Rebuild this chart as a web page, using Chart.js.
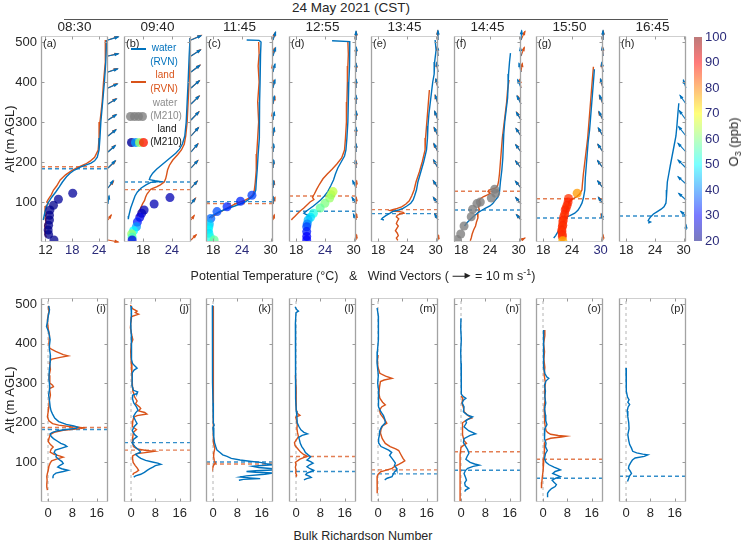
<!DOCTYPE html>
<html><head><meta charset="utf-8">
<script src="https://cdn.jsdelivr.net/npm/chart.js@4.4.1/dist/chart.umd.min.js"></script>
<style>
body{margin:0;background:#fff;}
#root{position:relative;width:744px;height:543px;overflow:hidden;font-family:"Liberation Sans",Arial,Helvetica,sans-serif;color:#262626;background:#fff;}
#root canvas{position:absolute;}
.t{position:absolute;white-space:nowrap;line-height:1;z-index:5;}
.c{transform:translate(-50%,-50%);}
.rot{transform:translate(-50%,-50%) rotate(-90deg);}
.dot{position:absolute;width:9px;height:9px;border-radius:50%;z-index:5;}
.arr{display:inline-block;position:relative;width:13px;height:1.4px;background:#222;vertical-align:middle;margin:0 9px 0 4px;}
.arr:after{content:"";position:absolute;right:-5px;top:-3px;border-left:6px solid #222;border-top:3.7px solid transparent;border-bottom:3.7px solid transparent;}
</style></head><body><div id="root"></div>
<script>
// ---------------- DATA ----------------
const times = ["08:30","09:40","11:45","12:55","13:45","14:45","15:50","16:45"];
const topLabels = ["(a)","(b)","(c)","(d)","(e)","(f)","(g)","(h)"];
const botLabels = ["(i)","(j)","(k)","(l)","(m)","(n)","(o)","(p)"];
const tMin = [11,14,16.5,16.5,16.5,16.5,16.5,16.5];
const tMax = [26,28,30.5,30.5,30.5,30.5,30.5,30.5];
const tTicks = [[12,18,24],[18,24],[18,24,30],[18,24,30],[18,24,30],[18,24,30],[18,24,30],[18,24,30]];
const tTicksNavy = [[18,24],[24],[24],[24],[],[],[30],[]];
const altTicks = [100,200,300,400,500];
const brnTicks = [0,8,16];
const brnMin = -2.3, brnMax = 19.7;
const o3Ticks = [20,30,40,50,60,70,80,90,100];
// boundary-layer heights (m), water and land
const pblWater = [183,150,101,77,71,80,60,65];
const pblLand  = [188,131,96,115,81,127,108,null];

// potential temperature profiles [alt, theta]
const thWater_a = [[505,25.7],[450,25.5],[400,25.2],[350,24.8],[300,24.4],[260,24.2],[230,24.0],[212,23.6],[203,23.0],[197,22.2],[192,21.0],[187,19.8],[180,18.5],[172,17.5],[163,16.7],[150,15.8],[138,15.1],[125,14.3],[112,13.4],[100,12.7],[88,12.2],[76,11.9],[65,11.7],[55,11.5]];
const thLand_a = [[505,25.5],[450,25.4],[400,25.0],[350,24.7],[300,24.2],[260,24.0],[230,23.8],[212,23.0],[202,22.0],[195,21.0],[190,20.0],[185,19.0],[178,17.8],[168,16.5],[155,15.3],[140,14.5],[130,13.8],[118,13.3],[108,12.7],[100,12.3],[95,12.6],[90,12.1],[80,11.9],[70,12.2],[60,11.9],[50,12.1],[40,11.8],[30,12.0],[20,11.9],[12,12.2]];
const thWater_b = [[510,27.8],[460,27.6],[400,27.4],[350,27.2],[300,27.0],[265,26.7],[245,26.2],[232,25.6],[222,24.8],[212,23.8],[202,22.8],[192,21.8],[182,20.8],[172,20.0],[163,19.5],[156,19.3],[153,20.5],[151,21.5],[149,19.6],[143,18.6],[135,17.6],[125,16.8],[115,16.3],[105,16.0],[95,15.7],[85,15.4],[75,15.2],[65,15.0],[57,14.9]];
const thLand_b = [[510,27.9],[460,27.8],[400,27.6],[350,27.4],[300,27.2],[265,26.9],[245,26.6],[230,26.0],[218,25.2],[205,24.2],[192,23.5],[180,23.1],[168,22.9],[158,22.7],[150,22.4],[143,21.6],[138,20.8],[134,20.0],[131,19.5],[126,19.2],[120,18.8],[112,18.5],[104,18.3],[96,17.9],[88,17.6],[80,17.3],[72,17.0],[64,16.7]];
const thWater_c = [[505,25.0],[504,27.6],[500,28.0],[470,27.9],[440,27.8],[400,27.8],[350,27.7],[300,27.7],[260,27.6],[220,27.4],[180,27.2],[150,27.0],[130,26.9],[120,26.6],[113,26.2],[107,25.5],[101,24.8],[95,23.6],[90,22.5],[85,21.3],[80,20.2],[75,19.2],[70,18.4],[65,17.6],[60,17.2]];
const thLand_c = [[500,27.5],[470,27.6],[440,27.4],[400,27.6],[350,27.3],[300,27.5],[260,27.3],[220,27.1],[180,27.0],[150,26.8],[130,26.6],[118,26.3],[110,25.6],[104,24.6],[99,23.4],[94,22.4],[89,21.6],[84,20.8],[78,19.9],[72,19.0],[66,18.2],[60,17.6]];
const thWater_d = [[503,25.5],[501,29.2],[480,29.2],[440,29.1],[400,29.0],[350,28.9],[300,28.8],[260,28.6],[230,28.4],[215,28.1],[200,27.4],[185,26.7],[170,26.2],[155,25.8],[140,25.2],[126,24.6],[115,23.9],[105,23.1],[97,22.3],[90,21.6],[83,20.8],[77,20.1],[72,19.6],[68,20.2],[66,21.0],[64,20.3]];
const thLand_d = [[500,28.8],[470,28.9],[440,28.8],[400,28.7],[350,28.6],[300,28.5],[260,28.3],[230,28.1],[210,27.5],[195,26.5],[182,25.5],[170,24.5],[158,23.6],[145,22.9],[132,22.3],[120,21.8],[112,21.4],[106,21.7],[100,20.9],[92,20.2],[85,19.6],[78,18.9],[71,18.3],[64,17.7],[58,17.2],[55,17.0]];
const thWater_e = [[505,29.9],[480,30.1],[450,29.8],[420,29.7],[400,29.4],[380,29.2],[350,28.9],[320,28.6],[290,28.4],[260,28.3],[230,28.1],[200,27.5],[175,26.9],[150,26.3],[130,26.0],[115,25.6],[105,25.3],[97,24.8],[90,24.0],[84,23.2],[80,22.3],[77,21.2],[72,20.5],[66,19.6],[60,18.9],[57,18.7],[55,19.2]];
const thLand_e = [[380,28.7],[350,28.5],[320,28.3],[290,28.1],[260,27.9],[230,27.8],[200,27.2],[175,26.6],[150,25.9],[130,25.5],[115,25.0],[103,24.5],[95,23.8],[88,22.9],[84,22.0],[81,21.0],[79,20.5],[77,21.5],[76,22.5],[74,23.2],[72,23.4],[70,22.6],[67,22.0],[63,21.8],[58,22.3],[52,22.0],[46,21.8],[40,22.2],[34,21.9],[28,21.6],[22,22.0],[16,22.2],[10,21.8],[4,22.1]];
const thWater_f = [[472,28.3],[450,28.1],[420,27.9],[390,27.8],[360,27.7],[330,27.4],[300,27.1],[270,26.9],[240,26.8],[210,26.7],[180,26.5],[150,26.2],[125,26.0],[113,25.7],[104,25.1],[96,24.6],[90,24.0],[84,23.0],[80,22.4],[74,21.6],[68,21.0],[62,20.4],[55,19.8],[48,19.2],[40,18.7]];
const thLand_f = [[405,28.0],[380,27.7],[350,27.5],[320,27.2],[290,26.9],[260,26.6],[230,26.4],[200,26.2],[170,26.0],[150,25.8],[140,25.6],[135,25.2],[132,24.4],[130,23.8],[126,23.6],[122,24.1],[118,23.5],[113,22.6],[108,22.0],[103,21.7],[96,21.9],[88,21.6],[80,21.8],[70,21.4],[60,21.5],[50,21.2],[40,21.0],[30,20.6],[20,20.3],[10,20.1],[3,19.9]];
const thWater_g = [[432,28.7],[400,28.5],[370,28.3],[340,28.1],[310,27.9],[280,27.7],[250,27.4],[220,27.2],[190,27.0],[160,26.8],[130,26.7],[110,26.4],[97,26.1],[88,25.7],[80,25.3],[72,24.6],[66,23.6],[62,22.8],[56,22.5],[48,22.2],[40,21.9],[32,21.5],[24,21.0],[16,20.6],[10,20.2]];
const thLand_g = [[438,28.5],[410,28.3],[380,28.1],[350,27.9],[320,27.7],[290,27.5],[260,27.3],[230,27.0],[200,26.7],[170,26.4],[145,26.2],[130,26.1],[120,25.6],[113,25.0],[108,24.2],[104,23.6],[98,23.4],[90,23.2],[80,22.9],[70,22.6],[60,22.4],[50,22.2],[40,22.2],[30,22.0],[20,22.1],[10,22.0]];
const thWater_h = [[347,29.0],[320,28.8],[290,28.6],[265,28.4],[240,28.0],[215,27.6],[190,27.2],[170,26.9],[150,26.6],[130,26.5],[110,26.4],[97,26.3],[88,25.9],[82,25.3],[76,24.5],[70,23.7],[64,23.2],[58,22.8],[53,22.6],[50,23.1],[47,22.6]];

// M210 drone points: land [alt, theta, O3], water [alt, theta]
const m210Land_a = [[122,18.1,22],[107,14.9,22],[92,13.8,21],[80,13.0,21],[67,12.9,21],[55,12.9,21],[42,12.7,21],[30,12.6,21],[19,12.7,21],[5,13.9,21]];
const m210Land_b = [[111,23.6,24],[95,20.3,24],[80,18.2,24],[72,17.7,25],[62,17.3,28],[50,16.8,32],[38,16.6,42],[28,16.0,50],[20,15.6,62],[12,15.7,55],[5,15.7,28]];
const m210Land_c = [[117,26.1,35],[102,23.7,33],[88,20.9,33],[76,18.8,36],[59,17.5,38],[45,17.2,45],[38,17.1,48],[30,17.0,50],[22,17.1,48],[12,17.4,52],[5,18.2,58]];
const m210Land_d = [[126,25.7,65],[118,25.3,64],[110,25.0,62],[97,24.0,60],[85,23.0,58],[72,21.6,52],[62,21.0,48],[55,20.5,45],[45,20.3,40],[38,20.2,35],[26,20.2,32],[14,20.2,30],[5,20.2,30]];
const m210Land_g = [[122,25.1,78],[109,23.3,86],[100,23.2,87],[92,23.0,87],[85,22.8,86],[80,22.6,87],[70,22.5,87],[63,22.3,86],[55,22.2,87],[50,22.1,86],[42,22.1,87],[38,22.0,86],[30,21.9,87],[26,21.9,86],[18,22.0,87],[13,22.0,86],[3,22.1,76]];
const m210Water_f = [[132,25.0],[122,25.2],[110,24.3],[100,22.0],[96,21.3],[82,20.4],[63,20.1],[40,18.6],[20,17.9],[6,17.2]];

// wind vectors [u, v] in m/s at levels (m)
const windLevels = [505,465,425,385,345,305,265,225,185,135,95,55,5];
const windLevels_h = [385,345,305,265,225,185,145,105,65,30];
const windW_a = [[7.7,2.3],[7.7,1.6],[7.2,2.3],[7.0,3.0],[6.3,3.8],[6.2,3.9],[6.0,4.6],[5.5,4.8],[5.4,5.4],[3.8,5.5],[0.8,6.2],null,null];
const windL_a = [[7.5,2.6],[7.6,1.9],[7.0,2.6],[6.8,3.3],[6.1,4.0],[6.0,4.1],[5.8,4.8],[5.3,5.0],[5.6,5.2],[4.2,5.0],null,[2.5,3.8],[7.7,-1.5]];
const windW_b = [[7.5,3.2],[7.0,4.5],[6.6,5.0],[6.2,5.4],[6.0,5.8],[5.8,6.0],[5.5,6.2],[5.0,6.0],[5.0,5.5],[4.6,5.0],[3.0,4.0],null,null];
const windL_b = [[7.7,3.5],[7.2,4.7],[6.8,5.2],[6.4,5.6],[6.2,6.0],[6.0,6.2],[5.7,6.4],[5.3,6.2],[5.2,5.7],[4.8,5.2],[3.5,4.5],[2.5,3.5],[4.0,4.0]];
const windW_c = [[2.0,6.0],[2.0,6.2],[1.5,6.0],[1.5,6.2],[1.0,6.0],[1.0,6.0],[1.0,6.2],[0.5,6.0],[0.5,6.0],[0.5,5.5],[0.3,5.5],null,null];
const windL_c = [[1.5,5.5],[1.0,5.8],[-0.5,5.5],[0.5,5.6],[1.5,5.5],[-0.5,5.6],[0.5,5.5],[0.0,5.6],[0.5,5.5],[1.0,5.0],[1.5,5.0],[1.0,4.0],null];
const windW_d = [[0.0,6.5],[0.3,6.6],[0.0,6.5],[0.0,6.6],[0.0,6.5],[0.2,6.5],[0.0,6.5],[0.0,6.2],[-0.5,6.0],[-2.5,5.5],[-3.0,5.0],[-2.0,4.5],null];
const windL_d = [[0.2,6.2],[0.0,6.2],[0.2,6.1],[0.0,6.2],[0.0,6.0],[0.3,6.0],[0.0,6.0],[0.0,6.0],[0.0,5.6],[0.5,5.5],[0.3,5.0],[0.5,4.5],[0.5,4.0]];
const windW_e = [[0.0,7.0],[-0.5,7.0],[-1.0,7.0],[-1.5,6.8],[-2.0,6.6],[-2.5,6.5],[-2.8,6.3],[-3.0,6.2],[-3.2,6.0],[-3.5,5.5],[-3.5,5.0],[-2.5,4.5],null];
const windL_e = [[-0.3,6.8],[-0.6,6.8],[-1.2,6.8],[-1.8,6.6],[-2.2,6.5],[-2.6,6.4],[-3.0,6.2],[-3.2,6.0],[-3.4,5.8],[-3.6,5.4],[-3.4,5.0],[-2.0,4.5],[0.5,3.5]];
const windW_f = [[0.5,7.0],[-0.5,6.5],[-1.5,6.5],[-2.5,6.3],[-3.0,6.0],[-3.5,5.8],[-3.8,5.6],[-4.0,5.4],[-4.0,5.2],[-4.2,5.0],[-4.0,4.8],[-3.5,4.0],null];
const windL_f = [[3.0,6.5],[2.5,6.5],[1.0,6.5],[-1.0,6.3],[-2.5,6.0],[-3.2,5.8],[-3.6,5.6],[-3.8,5.4],[-4.0,5.2],[-4.0,5.0],[-3.8,4.8],[-3.0,4.0],[3.0,1.5]];
const windW_g = [[0.0,7.0],[-0.5,7.0],[-1.0,7.0],[-1.8,6.8],[-2.5,6.5],[-3.0,6.3],[-3.5,6.0],[-3.8,5.8],[-4.0,5.5],[-4.0,5.3],[-3.5,5.0],[-1.0,4.5],null];
const windL_g = [[0.2,6.8],[-0.3,6.8],[-1.2,6.6],[-2.0,6.5],[-2.8,6.3],[-3.3,6.0],[-3.6,5.8],[-3.9,5.6],[-4.0,5.4],[-3.8,5.2],[-3.2,5.0],[-1.5,4.5],[0.0,4.0]];
const windW_h = [[-2.0,6.0],[-4.5,6.5],[-5.0,7.0],[-5.5,7.0],[-6.0,6.5],[-6.0,6.0],[-6.0,5.5],[-5.5,5.0],[-4.0,3.5],[0.0,4.0]];

// bulk Richardson number profiles [alt, Ri_b]
const brnWater_i = [[495,0.2],[485,0.5],[470,0.1],[455,-0.2],[443,-0.5],[430,0.2],[410,0.7],[390,0.4],[370,0.8],[350,0.7],[330,0.4],[310,0.3],[290,0.6],[270,0.2],[255,0.5],[241,0.7],[230,1.0],[222,1.5],[212,2.2],[203,3.5],[196,6.0],[192,8.5],[189,9.8],[186,9.2],[183,6.0],[180,3.2],[176,1.5],[172,0.7],[166,1.0],[160,1.8],[154,3.0],[148,4.2],[144,5.5],[140,6.2],[136,4.5],[131,2.4],[125,2.0],[119,2.8],[114,2.6],[108,3.5],[102,4.6],[97,5.0],[92,3.8],[88,3.2],[84,4.5],[80,6.6],[77,5.0],[73,2.6],[68,1.8],[63,1.6],[60,1.7]];
const brnLand_i = [[495,0.1],[480,0.3],[460,-0.2],[440,0.0],[420,0.5],[400,0.3],[388,0.6],[380,2.5],[372,5.0],[369,6.6],[365,4.0],[360,1.0],[350,0.5],[335,0.8],[320,0.4],[300,0.6],[295,1.5],[291,1.8],[286,0.5],[270,0.8],[255,0.4],[240,0.3],[230,0.1],[215,-0.2],[205,0.3],[198,1.5],[194,3.5],[190,7.5],[187,12.3],[184,9.0],[181,5.0],[176,2.0],[170,0.7],[160,0.3],[152,0.1],[145,0.8],[139,1.7],[133,1.0],[126,0.7],[120,2.0],[116,4.0],[113,5.0],[109,3.0],[104,1.2],[98,0.7],[90,0.3],[81,0.1],[72,-0.2],[64,-0.4],[55,-0.3],[45,-0.4],[38,-0.4],[30,-0.2]];
const brnWater_j = [[495,0.0],[480,0.3],[470,0.0],[450,-0.1],[420,0.1],[400,0.0],[380,0.2],[360,0.3],[350,0.5],[343,1.3],[338,2.0],[333,1.0],[326,0.4],[310,0.4],[295,0.3],[282,0.8],[278,2.2],[274,2.0],[270,0.6],[260,0.5],[250,0.9],[240,1.8],[232,2.3],[225,1.5],[216,0.8],[205,1.5],[198,2.0],[190,1.0],[180,0.4],[170,1.2],[165,2.0],[158,0.8],[148,0.5],[138,1.5],[130,2.8],[126,3.1],[120,1.5],[114,2.5],[110,3.2],[105,4.8],[101,7.0],[98,8.8],[95,9.8],[92,8.0],[88,7.2],[84,6.2],[80,5.3],[75,4.4],[70,3.2],[66,1.5],[63,0.9]];
const brnLand_j = [[497,-0.2],[488,0.5],[482,2.0],[478,1.4],[474,2.5],[468,0.2],[455,0.0],[440,-0.2],[420,0.3],[410,0.6],[400,0.1],[380,-0.1],[350,0.1],[320,0.3],[290,0.5],[280,0.6],[274,0.9],[265,1.2],[255,2.0],[248,1.5],[240,2.8],[236,3.2],[230,2.5],[226,4.5],[222,5.2],[218,2.0],[214,0.9],[205,0.6],[198,0.5],[190,0.4],[183,1.8],[176,0.8],[165,0.6],[150,0.5],[140,0.8],[134,2.0],[130,5.0],[128,7.6],[126,6.0],[122,2.0],[117,0.6],[110,0.5],[100,0.7],[92,1.4],[86,2.0],[80,2.5],[76,1.8],[72,0.8],[68,0.6]];
const brnWater_k = [[497,-0.2],[450,-0.2],[400,-0.1],[350,-0.2],[300,-0.1],[250,0.0],[200,0.1],[194,0.4],[188,0.0],[175,0.2],[165,0.3],[150,0.5],[140,0.9],[131,1.3],[125,2.3],[119,3.2],[115,4.6],[110,6.0],[106,8.9],[103,12.0],[100,15.5],[97,17.5],[94,19.9],[92,16.0],[90,13.0],[87,15.0],[84,19.9],[81,19.9],[79,14.0],[77,11.0],[75,14.0],[73,19.9],[70,17.0],[66,11.0],[63,8.9],[61,12.0],[59,15.5],[57,10.0],[55,8.5]];
const brnLand_k = [[495,0.0],[450,0.1],[400,0.1],[390,0.3],[380,0.0],[300,0.1],[250,0.0],[215,0.0],[200,0.2],[175,0.1],[150,0.3],[135,0.6],[125,0.3],[115,0.2],[105,0.4],[98,0.8],[95,0.4],[91,0.1],[88,0.0]];
const brnWater_l = [[493,-0.3],[486,0.2],[482,0.8],[478,0.0],[450,-0.2],[400,-0.1],[350,-0.2],[300,-0.1],[260,-0.1],[230,0.1],[215,0.3],[200,0.4],[190,1.0],[182,1.6],[176,2.6],[172,3.8],[168,2.0],[163,0.9],[155,1.2],[148,1.4],[140,1.9],[132,2.6],[125,3.1],[119,4.0],[114,4.8],[110,4.2],[106,3.6],[102,4.8],[98,5.6],[94,4.5],[89,3.6],[84,4.6],[80,5.8],[77,5.0],[73,3.6],[69,3.2],[65,4.5],[62,5.0],[59,3.5],[56,2.6]];
const brnLand_l = [[320,-0.2],[290,0.0],[260,0.0],[235,0.1],[224,0.4],[219,1.3],[214,-0.1],[205,0.2],[195,0.4],[185,0.3],[175,0.5],[165,0.8],[158,0.2],[150,-0.5],[142,-0.3],[135,0.5],[126,1.5],[120,2.5],[115,3.8],[112,2.5],[108,1.3],[104,0.5],[100,-0.2],[95,0.0],[88,-0.2],[80,0.0],[73,-0.1],[68,0.2],[64,0.1]];
const brnWater_m = [[490,-0.3],[470,0.1],[450,0.2],[434,0.2],[410,0.0],[380,-0.2],[350,-0.3],[320,0.1],[300,-0.1],[280,0.2],[260,0.0],[240,0.3],[230,0.8],[224,1.3],[218,1.8],[210,2.2],[200,2.4],[190,1.2],[180,0.6],[170,0.5],[160,0.2],[149,0.2],[140,1.0],[131,3.5],[125,4.5],[118,3.8],[110,4.6],[104,5.2],[98,5.7],[92,5.4],[86,6.0],[81,6.2],[76,5.4],[70,5.0],[64,4.6],[60,3.0],[56,2.2]];
const brnLand_m = [[371,0.0],[355,-0.2],[340,0.0],[325,0.6],[318,2.5],[312,4.6],[308,2.0],[304,0.8],[290,0.5],[275,0.3],[262,0.6],[252,1.5],[245,2.4],[240,1.2],[232,0.5],[222,0.8],[212,1.8],[204,2.5],[199,2.9],[192,1.5],[184,1.0],[174,0.8],[160,1.4],[148,2.4],[140,4.0],[134,5.8],[130,6.8],[120,7.5],[110,8.2],[104,8.8],[100,8.0],[95,6.8],[90,5.5],[85,4.6],[80,2.5],[76,0.8],[70,0.0],[64,-0.3],[50,-0.3],[35,-0.2],[22,-0.3]];
const brnWater_n = [[464,0.0],[440,-0.1],[410,0.1],[380,-0.1],[350,0.0],[320,0.1],[290,0.0],[272,0.2],[266,0.8],[262,1.6],[257,0.8],[250,0.4],[240,1.0],[228,0.8],[220,2.0],[215,3.8],[210,2.5],[205,1.5],[200,1.8],[190,1.0],[180,2.5],[172,4.8],[168,3.0],[160,1.0],[150,0.8],[140,1.6],[132,2.2],[123,2.6],[115,2.0],[108,1.6],[100,3.0],[96,4.5],[93,6.0],[90,4.0],[85,2.2],[80,1.5],[72,1.0],[62,1.5],[55,1.8],[48,1.2],[41,1.4],[35,2.6],[30,1.5],[26,1.2]];
const brnLand_n = [[268,0.0],[262,0.6],[250,0.3],[238,0.8],[228,1.0],[218,2.4],[212,3.5],[208,2.0],[200,0.5],[190,0.6],[170,0.4],[155,1.0],[148,1.8],[143,0.8],[138,0.0],[120,-0.3],[90,-0.3],[60,-0.3],[30,-0.3],[2,-0.3]];
const brnWater_o = [[434,0.2],[420,0.0],[400,0.3],[380,0.1],[360,0.3],[340,0.2],[325,0.6],[316,1.2],[312,1.9],[306,1.0],[295,0.5],[280,0.8],[265,0.6],[250,0.9],[235,0.5],[220,0.8],[205,0.9],[195,1.3],[185,0.6],[170,0.4],[160,0.6],[148,1.0],[140,0.8],[130,1.4],[122,0.8],[110,0.5],[100,1.0],[94,2.0],[88,3.6],[84,4.8],[81,5.7],[77,4.0],[72,3.2],[68,4.5],[64,5.7],[60,4.2],[55,3.0],[50,3.6],[44,4.4],[39,4.0],[34,2.8],[28,2.0],[22,1.5],[16,1.6],[12,1.4]];
const brnLand_o = [[434,0.4],[420,0.6],[400,0.2],[380,0.5],[360,0.3],[340,0.6],[320,0.4],[300,0.8],[280,0.5],[260,0.7],[240,0.4],[220,0.6],[200,0.5],[188,0.8],[180,1.0],[175,1.6],[171,2.5],[168,5.0],[166,7.6],[164,6.0],[161,2.5],[157,1.0],[150,0.6],[140,0.5],[125,0.4],[110,0.3],[95,0.1],[80,0.0],[65,-0.2],[50,-0.4],[35,-0.5]];
const brnWater_p = [[338,0.0],[320,0.1],[300,0.0],[280,0.2],[265,0.5],[258,1.0],[252,0.6],[246,1.2],[240,0.7],[230,0.4],[215,0.6],[200,0.9],[185,1.0],[170,0.6],[155,0.9],[145,1.2],[136,1.8],[128,2.2],[124,3.5],[121,5.5],[119,7.2],[115,6.0],[111,3.0],[106,2.1],[100,1.6],[92,1.0],[85,0.8],[78,1.4],[72,1.8],[66,1.2],[58,0.8],[52,0.5]];

// ---------------- ASSEMBLY ----------------
const thWater = [thWater_a,thWater_b,thWater_c,thWater_d,thWater_e,thWater_f,thWater_g,thWater_h];
const thLand = [thLand_a,thLand_b,thLand_c,thLand_d,thLand_e,thLand_f,thLand_g,null];
const m210Land = [m210Land_a,m210Land_b,m210Land_c,m210Land_d,null,null,m210Land_g,null];
const m210Water = [null,null,null,null,null,m210Water_f,null,null];
const windW = [windW_a,windW_b,windW_c,windW_d,windW_e,windW_f,windW_g,windW_h];
const windL = [windL_a,windL_b,windL_c,windL_d,windL_e,windL_f,windL_g,null];
const windAlt = [windLevels,windLevels,windLevels,windLevels,windLevels,windLevels,windLevels,windLevels_h];
const brnWater = [brnWater_i,brnWater_j,brnWater_k,brnWater_l,brnWater_m,brnWater_n,brnWater_o,brnWater_p];
const brnLand = [brnLand_i,brnLand_j,brnLand_k,brnLand_l,brnLand_m,brnLand_n,brnLand_o,null];

const BLUE = '#0072BD', ORANGE = '#D95319';
const BLUE_D = 'rgba(0,114,189,0.8)', ORANGE_D = 'rgba(217,83,25,0.75)';
const NAVY = '#2b2b7a', INK = '#262626';
const panelLeft = [41,124,206,289,371,454,536,619];
const PW = 67;
const TOP1 = 36, H1 = 206, TOP2 = 298, H2 = 204;
const padL = 38, padR = 18, padT = 16, padB = 26;
const root = document.getElementById('root');

function jet(v, a) {
  const t = Math.max(0, Math.min(1, (v - 20) / 80));
  const f = x => Math.round(255 * Math.max(0, Math.min(1, 1.5 - Math.abs(x))));
  return `rgba(${f(4*t-3)},${f(4*t-2)},${f(4*t-1)},${a})`;
}
function makeCanvas(l, t, w, h) {
  const c = document.createElement('canvas');
  c.width = w; c.height = h;
  c.style.left = l + 'px'; c.style.top = t + 'px';
  c.style.width = w + 'px'; c.style.height = h + 'px';
  root.appendChild(c);
  return c;
}
function text(str, x, y, size, cls, extra) {
  const d = document.createElement('div');
  d.className = 't ' + (cls || 'c');
  d.style.left = x + 'px'; d.style.top = y + 'px';
  d.style.fontSize = size + 'px';
  if (extra) Object.assign(d.style, extra);
  d.innerHTML = str;
  root.appendChild(d);
  return d;
}
const xy = arr => arr.map(p => ({x: p[1], y: p[0]}));
const lineDs = (arr, color) => ({data: xy(arr), showLine: true, borderColor: color, borderWidth: 1.4, pointRadius: 0, tension: 0});
const hLineDs = (alt, x0, x1, color) => ({data: [{x: x0, y: alt}, {x: x1, y: alt}], showLine: true, borderColor: color, borderWidth: 1.4, borderDash: [4, 3], pointRadius: 0});

const framePlugin = {
  id: 'frame',
  afterDraw(chart) {
    const {ctx, chartArea: a, scales} = chart;
    const L = Math.round(a.left) + 0.5, R = Math.round(a.right) - 0.5, T = Math.round(a.top) + 0.5, B = Math.round(a.bottom) - 0.5;
    ctx.save();
    ctx.lineWidth = 1;
    ctx.strokeStyle = '#cfcfcf';
    ctx.beginPath(); ctx.moveTo(L, T); ctx.lineTo(R, T); ctx.moveTo(L, B); ctx.lineTo(R, B); ctx.stroke();
    ctx.strokeStyle = '#a3a3a3'; ctx.lineWidth = 1.3;
    ctx.beginPath(); ctx.moveTo(L, T); ctx.lineTo(L, B); ctx.moveTo(R, T); ctx.lineTo(R, B); ctx.stroke();
    ctx.strokeStyle = '#9a9a9a'; ctx.lineWidth = 1;
    ctx.beginPath();
    scales.x.ticks.forEach(t => { const p = Math.round(scales.x.getPixelForValue(t.value)) + 0.5;
      ctx.moveTo(p, B); ctx.lineTo(p, B - 3); ctx.moveTo(p, T); ctx.lineTo(p, T + 3); });
    scales.y.ticks.forEach(t => { const p = Math.round(scales.y.getPixelForValue(t.value)) + 0.5;
      ctx.moveTo(L, p); ctx.lineTo(L + 3, p); ctx.moveTo(R, p); ctx.lineTo(R - 3, p); });
    ctx.stroke();
    ctx.restore();
  }
};

function windPlugin(i) {
  return {
    id: 'wind' + i,
    afterDatasetsDraw(chart) {
      const {ctx, scales: {x, y}} = chart;
      const x0 = x.getPixelForValue(tMax[i]);
      const k = 1.35;
      const draw = (vecs, color) => {
        if (!vecs) return;
        ctx.strokeStyle = color; ctx.fillStyle = color; ctx.lineWidth = 1.1;
        vecs.forEach((w, j) => {
          if (!w) return;
          const y0 = y.getPixelForValue(windAlt[i][j]);
          const x1 = x0 + w[0] * k, y1 = y0 - w[1] * k;
          const ang = Math.atan2(y1 - y0, x1 - x0);
          ctx.beginPath(); ctx.moveTo(x0, y0); ctx.lineTo(x1, y1); ctx.stroke();
          const hl = 4.2, hw = 0.42;
          ctx.beginPath();
          ctx.moveTo(x1 + 1.2 * Math.cos(ang), y1 + 1.2 * Math.sin(ang));
          ctx.lineTo(x1 - hl * Math.cos(ang - hw), y1 - hl * Math.sin(ang - hw));
          ctx.lineTo(x1 - hl * Math.cos(ang + hw), y1 - hl * Math.sin(ang + hw));
          ctx.closePath(); ctx.fill();
        });
      };
      ctx.save();
      draw(windL[i], ORANGE);
      draw(windW[i], BLUE);
      ctx.restore();
    }
  };
}

function scalesCfg(xmin, xmax, xticks, showY, xpad, navy) {
  return {
    x: {type: 'linear', min: xmin, max: xmax, grid: {display: false, drawTicks: false}, border: {display: false},
        ticks: {padding: xpad, font: {size: 13}, maxRotation: 0, autoSkip: false,
                color: c => (navy && c.tick && navy.includes(c.tick.value)) ? NAVY : INK},
        afterBuildTicks: s => { s.ticks = xticks.map(v => ({value: v})); },
        afterFit: s => { s.height = padB; }},
    y: {type: 'linear', min: 0, max: 515, grid: {display: false, drawTicks: false}, border: {display: false},
        ticks: {display: showY, padding: 4, font: {size: 13}, color: INK, autoSkip: false},
        afterBuildTicks: s => { s.ticks = altTicks.map(v => ({value: v})); },
        afterFit: s => { s.width = padL; }}
  };
}
function baseOptions(scales) {
  return {responsive: false, animation: false, devicePixelRatio: 1, events: [],
    layout: {padding: {left: 0, right: padR, top: padT, bottom: 0}},
    plugins: {legend: {display: false}, tooltip: {enabled: false}},
    scales};
}

// ---- top row: potential temperature ----
for (let i = 0; i < 8; i++) {
  const L = panelLeft[i];
  const cv = makeCanvas(L - padL, TOP1 - padT, PW + padL + padR, H1 + padT + padB);
  const ds = [];
  if (m210Land[i]) ds.push({data: m210Land[i].map(p => ({x: p[1], y: p[0]})), showLine: false, pointRadius: 4.5,
      pointBackgroundColor: m210Land[i].map(p => jet(p[2], 0.75)), pointBorderWidth: 0, pointBorderColor: 'rgba(0,0,0,0)'});
  if (m210Water[i]) ds.push({data: xy(m210Water[i]), showLine: false, pointRadius: 4.5,
      pointBackgroundColor: 'rgba(128,128,128,0.8)', pointBorderWidth: 0, pointBorderColor: 'rgba(0,0,0,0)'});
  ds.push(lineDs(thWater[i], BLUE));
  if (thLand[i]) ds.push(lineDs(thLand[i], ORANGE));
  ds.push(hLineDs(pblWater[i], tMin[i], tMax[i], BLUE_D));
  if (pblLand[i] != null) ds.push(hLineDs(pblLand[i], tMin[i], tMax[i], ORANGE_D));
  new Chart(cv, {type: 'scatter', data: {datasets: ds},
    options: baseOptions(scalesCfg(tMin[i], tMax[i], tTicks[i], i === 0, 1, tTicksNavy[i])),
    plugins: [framePlugin, windPlugin(i)]});
}

// ---- bottom row: bulk Richardson number ----
for (let i = 0; i < 8; i++) {
  const L = panelLeft[i];
  const cv = makeCanvas(L - padL, TOP2 - padT, PW + padL + padR, H2 + padT + padB);
  const ds = [];
  ds.push(lineDs(brnWater[i], BLUE));
  if (brnLand[i]) ds.push(lineDs(brnLand[i], ORANGE));
  ds.push(hLineDs(pblWater[i], brnMin, brnMax, BLUE_D));
  if (pblLand[i] != null) ds.push(hLineDs(pblLand[i], brnMin, brnMax, ORANGE_D));
  ds.push({data: [{x: 0, y: 0}, {x: 0, y: 515}], showLine: true, borderColor: '#b5b5b5', borderWidth: 1, borderDash: [3, 3], pointRadius: 0});
  new Chart(cv, {type: 'scatter', data: {datasets: ds},
    options: baseOptions(scalesCfg(brnMin, brnMax, brnTicks, i === 0, 4, null)),
    plugins: [framePlugin]});
}

// ---- colorbar ----
(function () {
  const cv = makeCanvas(694, 37 - 12, 8 + 34, 204 + 24);
  const cbPlugin = {
    id: 'cb',
    beforeDatasetsDraw(chart) {
      const {ctx, chartArea: a, scales: {y}} = chart;
      const g = ctx.createLinearGradient(0, y.getPixelForValue(20), 0, y.getPixelForValue(100));
      for (let v = 20; v <= 100; v += 2) g.addColorStop((v - 20) / 80, jet(v, 0.52));
      ctx.save(); ctx.fillStyle = g; ctx.fillRect(a.left, a.top, a.right - a.left, a.bottom - a.top); ctx.restore();
    }
  };
  new Chart(cv, {type: 'scatter', data: {datasets: [{data: []}]},
    options: {responsive: false, animation: false, devicePixelRatio: 1, events: [],
      layout: {padding: {left: 0, right: 0, top: 12, bottom: 12}},
      plugins: {legend: {display: false}, tooltip: {enabled: false}},
      scales: {
        x: {display: false, min: 0, max: 1},
        y: {position: 'right', min: 20, max: 100, grid: {display: false, drawTicks: false}, border: {display: false},
            ticks: {padding: 3, font: {size: 13}, color: NAVY},
            afterBuildTicks: s => { s.ticks = o3Ticks.map(v => ({value: v})); },
            afterFit: s => { s.width = 34; }}
      }},
    plugins: [cbPlugin]});
})();

// ---- texts ----
text('24 May 2021 (CST)', 351, 8, 13.5);
const ln = document.createElement('div');
Object.assign(ln.style, {position: 'absolute', left: '64px', top: '19px', width: '604px', height: '1px', background: '#555', zIndex: 5});
root.appendChild(ln);
times.forEach((s, i) => text(s, panelLeft[i] + PW / 2, 27, 13.5));
topLabels.forEach((s, i) => text(s, panelLeft[i] + 2, 38, 11, 'x', {}));
botLabels.forEach((s, i) => text(s, panelLeft[i] + PW - 2, 303, 11, 'x', {transform: 'translateX(-100%)'}));
text('Alt (m AGL)', 9, 139, 13, 'rot');
text('Alt (m AGL)', 9, 400, 13, 'rot');
text('Potential Temperature (°C) &nbsp;&nbsp;&amp;&nbsp;&nbsp; Wind Vectors (<span class="arr"></span>= 10 m s<sup style="font-size:9px;vertical-align:5px;">-1</sup>)', 363, 275, 12.5);
text('Bulk Richardson Number', 363, 536, 12.5);
text('O<sub style="font-size:9px;vertical-align:-3px;">3</sub> (ppb)', 735, 142, 13, 'rot');

// legend in panel (b)
function seg(x, y, w, color) {
  const d = document.createElement('div');
  Object.assign(d.style, {position: 'absolute', left: x + 'px', top: (y - 1) + 'px', width: w + 'px', height: '1.6px', background: color, zIndex: 5});
  root.appendChild(d);
}
function dot(x, y, color) {
  const d = document.createElement('div');
  d.className = 'dot';
  Object.assign(d.style, {left: (x - 4.5) + 'px', top: (y - 4.5) + 'px', background: color});
  root.appendChild(d);
}
seg(131, 49, 15, BLUE);
text('water', 164, 48, 10, 'c', {color: BLUE});
text('(RVN)', 164, 62, 10, 'c', {color: BLUE});
seg(131, 82, 15, ORANGE);
text('land', 165, 75, 10, 'c', {color: ORANGE});
text('(RVN)', 164, 89, 10, 'c', {color: ORANGE});
text('water', 165, 103, 10, 'c', {color: '#8c8c8c'});
[130, 134, 138, 142].forEach(x => dot(x, 116, 'rgba(128,128,128,0.8)'));
text('(M210)', 166, 116, 10, 'c', {color: '#8c8c8c'});
text('land', 167, 129, 10, 'c', {color: '#111'});
[[131, 22], [135, 42], [139, 62], [143, 88]].forEach(p => dot(p[0], 142, jet(p[1], 0.8)));
text('(M210)', 166, 142, 10, 'c', {color: '#111'});
</script></body></html>
